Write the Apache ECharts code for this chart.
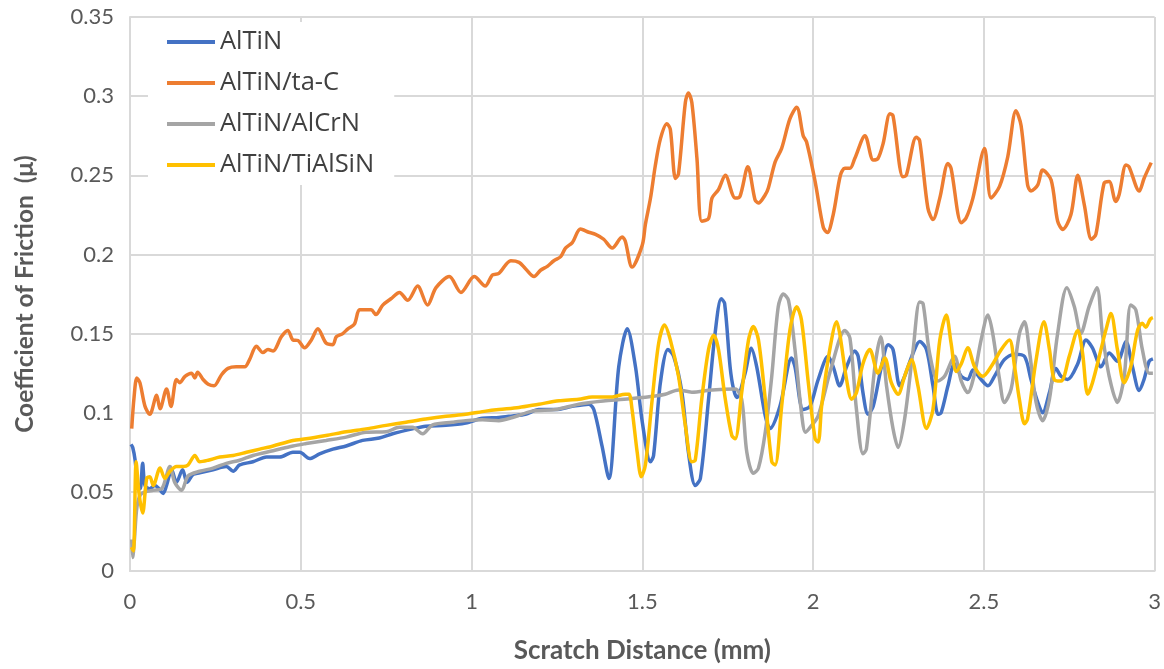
<!DOCTYPE html>
<html>
<head>
<meta charset="utf-8">
<script src="https://cdn.jsdelivr.net/npm/echarts@6/dist/echarts.min.js"></script>
<style>
  html, body { margin: 0; padding: 0; background: #fff; }
  #chart { width: 1164px; height: 669px; }
</style>
</head>
<body>
<div id="chart"></div>
<script>
// Scratch-test friction traces: [scratch distance (mm), coefficient of friction]
const seriesNames = ['AlTiN', 'AlTiN/ta-C', 'AlTiN/AlCrN', 'AlTiN/TiAlSiN'];
const seriesColors = ['#4472C4', '#ED7D31', '#A5A5A5', '#FFC000'];

const altin = [
  [0.003,0.08],[0.008,0.078],[0.015,0.07],[0.022,0.055],[0.03,0.052],[0.037,0.068],[0.044,0.054],
  [0.058,0.052],[0.073,0.054],[0.085,0.052],[0.097,0.049],[0.107,0.054],[0.122,0.064],[0.136,0.056],
  [0.154,0.064],[0.167,0.056],[0.185,0.061],[0.204,0.062],[0.243,0.064],[0.282,0.066],[0.302,0.063],
  [0.321,0.067],[0.36,0.069],[0.4,0.072],[0.438,0.072],[0.477,0.075],[0.497,0.075],[0.526,0.071],
  [0.555,0.074],[0.594,0.077],[0.633,0.079],[0.681,0.0825],[0.73,0.084],[0.769,0.0867],[0.827,0.0898],
  [0.866,0.0915],[0.925,0.092],[0.983,0.0935],[1.032,0.0965],[1.08,0.097],[1.12,0.098],[1.158,0.099],
  [1.197,0.102],[1.246,0.102],[1.295,0.104],[1.343,0.1054],[1.358,0.102],[1.382,0.079],[1.402,0.0585],
  [1.431,0.129],[1.456,0.153],[1.48,0.129],[1.5,0.094],[1.524,0.069],[1.533,0.073],[1.553,0.119],
  [1.575,0.14],[1.592,0.1356],[1.616,0.1127],[1.635,0.075],[1.655,0.054],[1.67,0.0585],[1.694,0.1085],
  [1.713,0.15],[1.731,0.172],[1.741,0.169],[1.757,0.129],[1.767,0.115],[1.777,0.1096],[1.801,0.125],
  [1.819,0.1408],[1.835,0.129],[1.86,0.098],[1.874,0.09],[1.903,0.104],[1.937,0.1346],[1.947,0.129],
  [1.971,0.102],[1.991,0.104],[2.015,0.121],[2.044,0.1356],[2.059,0.129],[2.078,0.117],[2.098,0.129],
  [2.122,0.139],[2.132,0.1356],[2.146,0.1127],[2.161,0.099],[2.176,0.104],[2.2,0.129],[2.22,0.143],
  [2.234,0.14],[2.254,0.117],[2.268,0.123],[2.293,0.1377],[2.312,0.145],[2.332,0.14],[2.351,0.117],
  [2.366,0.099],[2.375,0.1],[2.395,0.117],[2.414,0.131],[2.434,0.123],[2.453,0.121],[2.468,0.127],
  [2.492,0.121],[2.512,0.117],[2.531,0.123],[2.56,0.1335],[2.59,0.137],[2.619,0.1356],[2.638,0.121],
  [2.658,0.1065],[2.672,0.1],[2.692,0.1127],[2.711,0.128],[2.726,0.123],[2.745,0.121],[2.775,0.131],
  [2.799,0.146],[2.818,0.141],[2.843,0.129],[2.867,0.1377],[2.891,0.1325],[2.916,0.145],[2.935,0.129],
  [2.955,0.114],[2.969,0.121],[2.984,0.1325],[2.995,0.134]
];

const altinTaC = [
  [0.005,0.09],[0.012,0.11],[0.02,0.122],[0.029,0.119],[0.044,0.104],[0.058,0.099],[0.078,0.111],
  [0.088,0.1025],[0.107,0.115],[0.12,0.104],[0.136,0.121],[0.146,0.119],[0.161,0.123],[0.18,0.125],
  [0.19,0.122],[0.198,0.1256],[0.214,0.121],[0.229,0.118],[0.246,0.117],[0.268,0.124],[0.287,0.128],
  [0.311,0.129],[0.336,0.129],[0.35,0.1335],[0.37,0.142],[0.389,0.138],[0.404,0.14],[0.419,0.139],
  [0.443,0.148],[0.462,0.152],[0.477,0.146],[0.492,0.1456],[0.511,0.141],[0.531,0.146],[0.55,0.153],
  [0.574,0.144],[0.594,0.143],[0.604,0.148],[0.623,0.15],[0.638,0.153],[0.657,0.156],[0.672,0.165],
  [0.691,0.165],[0.706,0.165],[0.72,0.162],[0.74,0.168],[0.764,0.172],[0.789,0.176],[0.813,0.171],
  [0.842,0.18],[0.871,0.168],[0.896,0.179],[0.935,0.186],[0.969,0.176],[1.008,0.186],[1.04,0.18],
  [1.061,0.187],[1.08,0.188],[1.115,0.196],[1.139,0.195],[1.158,0.191],[1.183,0.186],[1.202,0.19],
  [1.222,0.1925],[1.241,0.196],[1.261,0.1986],[1.275,0.204],[1.295,0.2075],[1.319,0.216],[1.343,0.214],
  [1.363,0.2127],[1.387,0.2096],[1.412,0.204],[1.441,0.211],[1.45,0.2085],[1.47,0.192],[1.5,0.206],
  [1.509,0.219],[1.524,0.2356],[1.538,0.256],[1.553,0.273],[1.572,0.2825],[1.582,0.279],[1.597,0.248],
  [1.606,0.251],[1.626,0.296],[1.635,0.302],[1.645,0.296],[1.66,0.2606],[1.674,0.221],[1.694,0.2227],
  [1.704,0.2356],[1.723,0.241],[1.743,0.25],[1.772,0.2356],[1.786,0.2367],[1.809,0.2554],[1.83,0.2346],
  [1.84,0.2325],[1.86,0.2377],[1.869,0.242],[1.889,0.2585],[1.908,0.267],[1.932,0.2856],[1.952,0.293],
  [1.971,0.275],[1.981,0.271],[2.006,0.246],[2.03,0.217],[2.042,0.2138],[2.059,0.2252],[2.08,0.25],
  [2.093,0.2544],[2.108,0.2544],[2.122,0.2606],[2.152,0.275],[2.176,0.2596],[2.19,0.2606],[2.205,0.27],
  [2.225,0.2888],[2.234,0.2877],[2.263,0.249],[2.273,0.25],[2.302,0.274],[2.312,0.272],[2.336,0.2294],
  [2.351,0.222],[2.371,0.2356],[2.395,0.2575],[2.404,0.2544],[2.434,0.22],[2.448,0.223],[2.468,0.2356],
  [2.502,0.267],[2.521,0.2356],[2.546,0.243],[2.57,0.2617],[2.594,0.2908],[2.609,0.2815],[2.628,0.244],
  [2.638,0.24],[2.658,0.244],[2.672,0.2533],[2.697,0.247],[2.716,0.221],[2.731,0.2158],[2.755,0.2252],
  [2.775,0.25],[2.794,0.2315],[2.815,0.2096],[2.828,0.2127],[2.852,0.245],[2.867,0.246],[2.886,0.2335],
  [2.896,0.2377],[2.916,0.2565],[2.925,0.2554],[2.955,0.24],[2.969,0.248],[2.99,0.258]
];

const altinAlCrN = [
  [0.005,0.02],[0.008,0.0086],[0.013,0.02],[0.02,0.04],[0.03,0.048],[0.044,0.05],[0.068,0.051],
  [0.093,0.052],[0.117,0.066],[0.131,0.056],[0.151,0.051],[0.17,0.06],[0.204,0.063],[0.243,0.065],
  [0.282,0.068],[0.321,0.07],[0.36,0.073],[0.419,0.076],[0.477,0.079],[0.516,0.0805],[0.574,0.0825],
  [0.633,0.0846],[0.691,0.0877],[0.75,0.088],[0.789,0.0908],[0.827,0.0908],[0.857,0.0867],[0.886,0.0923],
  [0.944,0.094],[0.983,0.095],[1.032,0.0956],[1.08,0.095],[1.12,0.097],[1.178,0.101],[1.246,0.102],
  [1.314,0.1054],[1.392,0.1075],[1.47,0.109],[1.538,0.1106],[1.567,0.1117],[1.606,0.1144],[1.645,0.113],
  [1.704,0.1144],[1.772,0.115],[1.791,0.1085],[1.806,0.075],[1.825,0.0617],[1.84,0.065],[1.86,0.0877],
  [1.879,0.123],[1.898,0.167],[1.913,0.175],[1.928,0.171],[1.947,0.14],[1.966,0.1],[1.978,0.0877],
  [1.996,0.092],[2.015,0.098],[2.054,0.129],[2.093,0.152],[2.108,0.147],[2.127,0.102],[2.146,0.074],
  [2.156,0.077],[2.181,0.129],[2.198,0.148],[2.215,0.117],[2.234,0.09],[2.249,0.078],[2.268,0.096],
  [2.293,0.14],[2.312,0.17],[2.322,0.169],[2.341,0.1377],[2.366,0.12],[2.385,0.123],[2.414,0.1356],
  [2.434,0.12],[2.453,0.1127],[2.473,0.125],[2.492,0.146],[2.512,0.1617],[2.526,0.15],[2.546,0.121],
  [2.56,0.1065],[2.58,0.115],[2.604,0.15],[2.619,0.1575],[2.633,0.14],[2.653,0.1065],[2.672,0.095],
  [2.692,0.1085],[2.716,0.15],[2.743,0.179],[2.765,0.167],[2.784,0.15],[2.808,0.167],[2.831,0.179],
  [2.847,0.15],[2.867,0.123],[2.891,0.1065],[2.911,0.123],[2.93,0.168],[2.945,0.165],[2.964,0.14],
  [2.984,0.125],[2.995,0.125]
];

const altinTiAlSiN = [
  [0.004,0.015],[0.01,0.0127],[0.018,0.069],[0.027,0.048],[0.037,0.0367],[0.049,0.0585],[0.058,0.0596],
  [0.068,0.054],[0.088,0.065],[0.102,0.0585],[0.117,0.063],[0.136,0.066],[0.156,0.066],[0.17,0.067],
  [0.19,0.073],[0.204,0.069],[0.229,0.07],[0.263,0.072],[0.302,0.073],[0.341,0.075],[0.38,0.077],
  [0.419,0.079],[0.477,0.0825],[0.516,0.0835],[0.574,0.0856],[0.633,0.088],[0.691,0.0898],[0.75,0.092],
  [0.808,0.094],[0.866,0.096],[0.925,0.0977],[0.983,0.099],[1.042,0.101],[1.08,0.102],[1.139,0.1033],
  [1.197,0.1054],[1.256,0.1075],[1.314,0.1085],[1.353,0.11],[1.412,0.11],[1.45,0.1117],[1.461,0.1117],
  [1.47,0.102],[1.485,0.075],[1.497,0.0596],[1.509,0.067],[1.529,0.1085],[1.548,0.144],[1.565,0.1554],
  [1.582,0.146],[1.606,0.123],[1.626,0.092],[1.645,0.069],[1.655,0.07],[1.674,0.1085],[1.694,0.14],
  [1.709,0.149],[1.723,0.14],[1.743,0.1085],[1.762,0.0856],[1.772,0.0835],[1.791,0.1127],[1.811,0.146],
  [1.825,0.1544],[1.84,0.146],[1.86,0.1085],[1.879,0.069],[1.889,0.067],[1.908,0.104],[1.932,0.152],
  [1.952,0.167],[1.966,0.1585],[1.986,0.119],[2.006,0.0835],[2.015,0.0815],[2.025,0.104],[2.049,0.14],
  [2.069,0.1575],[2.078,0.15],[2.098,0.121],[2.113,0.1085],[2.127,0.1127],[2.146,0.131],[2.166,0.14],
  [2.19,0.125],[2.21,0.1346],[2.229,0.119],[2.249,0.1117],[2.268,0.123],[2.288,0.1335],[2.307,0.117],
  [2.332,0.09],[2.351,0.102],[2.371,0.146],[2.39,0.1617],[2.404,0.144],[2.419,0.126],[2.434,0.131],
  [2.453,0.141],[2.473,0.129],[2.497,0.123],[2.521,0.129],[2.551,0.14],[2.575,0.146],[2.59,0.129],
  [2.604,0.1085],[2.619,0.093],[2.628,0.096],[2.653,0.1335],[2.676,0.1575],[2.692,0.14],[2.706,0.121],
  [2.726,0.12],[2.75,0.1356],[2.775,0.152],[2.789,0.1377],[2.804,0.1117],[2.818,0.119],[2.843,0.14],
  [2.857,0.152],[2.872,0.1627],[2.891,0.14],[2.911,0.119],[2.93,0.129],[2.95,0.152],[2.964,0.1565],
  [2.974,0.154],[2.987,0.159],[2.995,0.16]
];

const seriesData = [altin, altinTaC, altinAlCrN, altinTiAlSiN];

const xAxisTitle = 'Scratch Distance (mm)';
const yAxisTitle = 'Coefficient of Friction  (\u03bc)';

const tickText = v => String(parseFloat(v.toFixed(2)));
const labelColor = '#595959';
const gridColor = '#d9d9d9';
const fontFamily = 'Lato, "Liberation Sans", sans-serif';

const chart = echarts.init(document.getElementById('chart'), null, { renderer: 'canvas' });

chart.setOption({
  backgroundColor: '#ffffff',
  animation: false,
  grid: { left: 130, right: 7, top: 17, bottom: 92, containLabel: false },
  legend: {
    data: seriesNames,
    orient: 'vertical',
    left: 148,
    top: 22,
    padding: [6, 20, 6, 19],
    backgroundColor: '#ffffff',
    itemWidth: 48,
    itemHeight: 4,
    itemGap: 13,
    icon: 'rect',
    textStyle: { fontFamily: '"Open Sans", sans-serif', fontSize: 25.5, color: '#404040', lineHeight: 28 }
  },
  xAxis: {
    type: 'value',
    min: 0,
    max: 3,
    interval: 0.5,
    name: xAxisTitle,
    nameLocation: 'middle',
    nameGap: 67,
    nameTextStyle: { fontFamily, fontSize: 26, fontWeight: 'bold', color: labelColor },
    axisLine: { show: true, lineStyle: { color: gridColor, width: 2 } },
    axisTick: { show: false },
    axisLabel: { formatter: tickText, margin: 20, fontFamily, fontSize: 22, color: labelColor },
    splitLine: { show: true, lineStyle: { color: gridColor, width: 2 } }
  },
  yAxis: {
    type: 'value',
    min: 0,
    max: 0.35,
    interval: 0.05,
    name: yAxisTitle,
    nameLocation: 'middle',
    nameGap: 92,
    nameTextStyle: { fontFamily, fontSize: 24.5, fontWeight: 'bold', color: labelColor },
    axisLine: { show: true, lineStyle: { color: gridColor, width: 2 } },
    axisTick: { show: false },
    axisLabel: { formatter: tickText, margin: 16, fontFamily, fontSize: 22, color: labelColor },
    splitLine: { show: true, lineStyle: { color: gridColor, width: 2 } }
  },
  series: seriesNames.map((name, i) => ({
    name,
    type: 'line',
    data: seriesData[i],
    showSymbol: false,
    smooth: 0.3,
    color: seriesColors[i],
    lineStyle: { width: 3.5, color: seriesColors[i] },
    z: 2 + i
  }))
});
</script>
</body>
</html>
